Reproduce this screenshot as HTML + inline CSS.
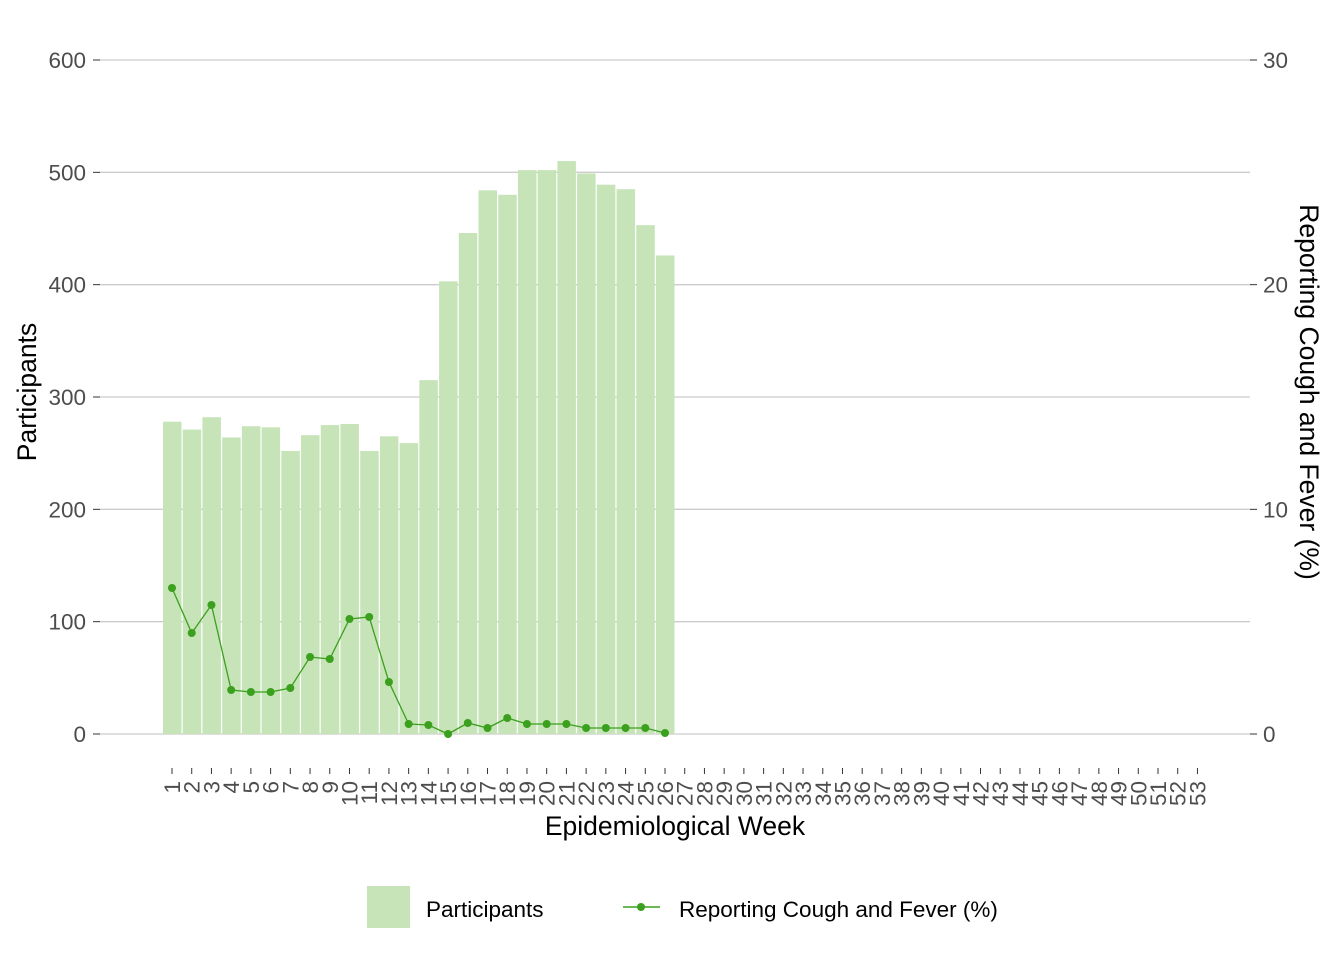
<!DOCTYPE html>
<html><head><meta charset="utf-8"><style>html,body{margin:0;padding:0;background:#fff}</style></head>
<body>
<svg id="s" width="1344" height="960" xmlns="http://www.w3.org/2000/svg" font-family="Liberation Sans, sans-serif"></svg>
<script>
const s=document.getElementById('s');let h='';
const yL=v=>734-v*1.12333, yR=v=>734-v*22.4667, X=w=>172+(w-1)*19.72;
for(let v=0;v<=600;v+=100){const y=yL(v);h+=`<line x1="100" x2="1250" y1="${y}" y2="${y}" stroke="#cccccc" stroke-width="1.3"/><line x1="93" x2="100" y1="${y}" y2="${y}" stroke="#333"/><text x="86" y="${y+8}" text-anchor="end" font-size="22.5" fill="#4d4d4d">${v}</text>`;}
for(let v=0;v<=30;v+=10){const y=yR(v);h+=`<line x1="1250" x2="1257" y1="${y}" y2="${y}" stroke="#333"/><text x="1263" y="${y+8}" font-size="22.5" fill="#4d4d4d">${v}</text>`;}
const bars=[278,271,282,264,274,273,252,266,275,276,252,265,259,315,403,446,484,480,502,502,510,499,489,485,453,426];
bars.forEach((b,i)=>{const x=X(i+1);h+=`<rect x="${x-9}" y="${yL(b)}" width="18.5" height="${734-yL(b)}" fill="#c7e4b9"/>`;});
const ly=[588,633,605,690,692,692,688,657,659,619,617,682,724,725,734,723,728,718,724,724,724,728,728,728,728,733];
h+=`<polyline fill="none" stroke="#3aa01d" stroke-width="1.3" points="${ly.map((y,i)=>X(i+1)+','+y).join(' ')}"/>`;
ly.forEach((y,i)=>h+=`<circle cx="${X(i+1)}" cy="${y}" r="4" fill="#3aa01d"/>`);
for(let w=1;w<=53;w++){const x=X(w);h+=`<line x1="${x}" x2="${x}" y1="768" y2="774" stroke="#333"/><text transform="translate(${x+8},781) rotate(-90)" text-anchor="end" font-size="22.5" fill="#4d4d4d">${w}</text>`;}
h+=`<text x="675" y="835" text-anchor="middle" font-size="26.5" fill="#000">Epidemiological Week</text>`;
h+=`<text transform="translate(36,392) rotate(-90)" text-anchor="middle" font-size="26.5" fill="#000">Participants</text>`;
h+=`<text transform="translate(1300,392) rotate(90)" text-anchor="middle" font-size="26.5" fill="#000">Reporting Cough and Fever (%)</text>`;
h+=`<rect x="367" y="886" width="43" height="42" fill="#c7e4b9"/><text x="426" y="917" font-size="22.5" fill="#000">Participants</text>`;
h+=`<line x1="623" x2="660" y1="907" y2="907" stroke="#3aa01d" stroke-width="1.5"/><circle cx="641" cy="907" r="4" fill="#3aa01d"/><text x="679" y="917" font-size="22.5" fill="#000">Reporting Cough and Fever (%)</text>`;
s.innerHTML=h;
</script>
</body></html>
